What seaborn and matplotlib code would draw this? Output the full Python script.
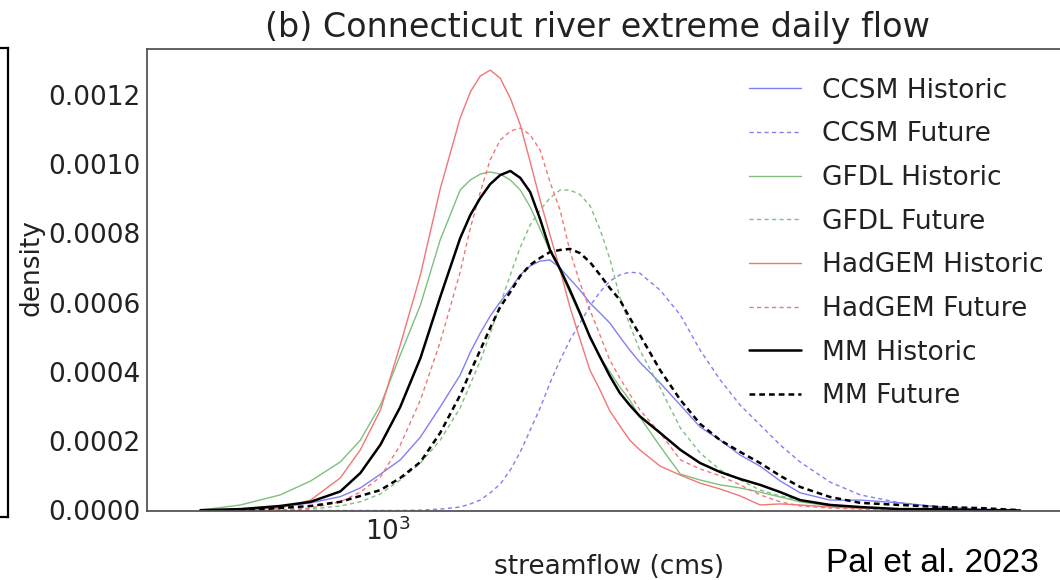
import matplotlib
matplotlib.use("Agg")
import matplotlib.pyplot as plt
import numpy as np
import pandas as pd
import seaborn as sns
from matplotlib.ticker import FixedLocator, FormatStrFormatter, NullFormatter, NullLocator

# ---------------- data ----------------
flow_cms = [601, 670, 746, 810, 878, 927, 979, 1033, 1091, 1151, 1215, 1249, 1283, 1318,
            1354, 1392, 1430, 1469, 1509, 1550, 1593, 1636, 1681, 1727, 1775, 1823, 1873,
            1924, 1977, 2089, 2207, 2328, 2458, 2595, 2739, 2893, 3053, 3311, 3593, 4004,
            4462, 4971, 5541]

# densities in units of 1e-6
ccsm_hist = [0, 1, 10, 22, 40, 65, 105, 146, 212, 299, 391, 457, 512, 561, 602, 639, 680, 706,
             720, 723, 700, 668, 636, 599, 570, 541, 501, 463, 428, 368, 304, 241, 203, 160,
             128, 85, 51, 30, 30, 22, 10, 4, 1]
ccsm_fut = [0, 0, 0, 0, 0, 0, 0, 0, 1, 4, 10, 19, 30, 51, 76, 117, 169, 232, 296, 368, 434,
            492, 541, 590, 631, 662, 680, 688, 685, 636, 564, 463, 377, 304, 247, 189, 140,
            82, 45, 22, 10, 4, 1]
gfdl_hist = [1, 16, 45, 85, 140, 203, 304, 449, 593, 781, 925, 954, 971, 977, 971, 954, 925,
             876, 812, 749, 691, 628, 564, 504, 443, 400, 356, 319, 270, 185, 105, 88, 74, 65,
             53, 39, 25, 13, 7, 4, 1, 0, 0]
gfdl_fut = [0, 0, 1, 4, 13, 25, 48, 88, 137, 203, 296, 365, 432, 510, 595, 680, 760, 824, 867,
            902, 925, 925, 912, 880, 812, 726, 615, 535, 463, 354, 238, 166, 117, 88, 59, 42,
            30, 16, 7, 4, 1, 0, 0]
hadgem_hist = [0, 1, 7, 30, 94, 175, 290, 478, 680, 928, 1133, 1208, 1254, 1271, 1248, 1190,
               1113, 1006, 896, 795, 694, 587, 495, 405, 348, 287, 244, 203, 175, 128, 102,
               79, 62, 42, 16, 19, 16, 10, 7, 4, 1, 0, 0]
hadgem_fut = [0, 0, 1, 7, 25, 53, 97, 189, 319, 486, 688, 815, 919, 1012, 1069, 1095, 1104,
              1084, 1040, 948, 867, 749, 657, 579, 506, 434, 382, 336, 290, 224, 146, 120,
              100, 74, 45, 25, 13, 7, 4, 1, 0, 0, 0]
mm_hist = [1, 4, 13, 25, 55, 108, 190, 299, 440, 616, 786, 853, 902, 942, 968, 980, 960, 919,
           841, 752, 697, 636, 570, 501, 443, 388, 339, 304, 272, 224, 175, 137, 111, 91, 74,
           53, 30, 16, 10, 4, 4, 1, 0]
mm_fut = [0, 1, 7, 13, 25, 42, 59, 94, 140, 224, 333, 400, 463, 527, 587, 631, 677, 709, 729,
          746, 752, 755, 743, 717, 680, 642, 608, 556, 507, 405, 319, 250, 203, 169, 137, 100,
          68, 39, 22, 16, 10, 7, 1]
DENSITY_UNIT = 1e-6

series_names = ["CCSM Historic", "CCSM Future", "GFDL Historic", "GFDL Future",
                "HadGEM Historic", "HadGEM Future", "MM Historic", "MM Future"]
series_values = [ccsm_hist, ccsm_fut, gfdl_hist, gfdl_fut,
                 hadgem_hist, hadgem_fut, mm_hist, mm_fut]
y_ticks = [0.0, 0.0002, 0.0004, 0.0006, 0.0008, 0.0010, 0.0012]

# ---------------- styles ----------------
styles = {
    "CCSM Historic":   dict(color="#8080f2", lw=1.0, ls="-"),
    "CCSM Future":     dict(color="#8080f2", lw=1.0, ls=(0, (3.0, 2.4))),
    "GFDL Historic":   dict(color="#7fbf7f", lw=1.0, ls="-"),
    "GFDL Future":     dict(color="#7fbf7f", lw=1.0, ls=(0, (3.0, 2.4))),
    "HadGEM Historic": dict(color="#f27676", lw=1.0, ls="-"),
    "HadGEM Future":   dict(color="#f27676", lw=1.0, ls=(0, (3.0, 2.4))),
    "MM Historic":     dict(color="black", lw=1.8, ls="-"),
    "MM Future":       dict(color="black", lw=1.8, ls=(0, (2.3, 1.6))),
}

rows = []
for name, vals in zip(series_names, series_values):
    for f, d in zip(flow_cms, vals):
        rows.append({"streamflow": f, "density": d * DENSITY_UNIT, "series": name})
df = pd.DataFrame(rows)

sns.set_theme(style="white")
plt.rcParams["font.family"] = ["DejaVu Sans"]

W, H = 1060, 580
fig = plt.figure(figsize=(W / 100, H / 100), dpi=100)

# cropped neighbouring panel (only its frame is visible at the far left)
ax0 = fig.add_axes([-0.05, 1 - 517 / H, 0.05 + 8 / W, (517 - 48) / H])
ax0.set_xticks([]); ax0.set_yticks([])
for s in ["top", "right", "bottom"]:
    ax0.spines[s].set_color("black"); ax0.spines[s].set_linewidth(1.6)
ax0.spines["left"].set_visible(False)

L, R, T, B = 147, 1075, 49, 510.5
ax = fig.add_axes([L / W, 1 - B / H, (R - L) / W, (B - T) / H])

for name in series_names:
    st = styles[name]
    sub = df[df["series"] == name]
    sns.lineplot(data=sub, x="streamflow", y="density", ax=ax, color=st["color"],
                 linewidth=st["lw"], linestyle=st["ls"], label=name, sort=False,
                 estimator=None)

ax.set_xscale("log")
ax.set_xlim(520, 6430)
ax.set_ylim(0, 0.001332)
ax.yaxis.set_major_locator(FixedLocator(y_ticks))
ax.yaxis.set_major_formatter(FormatStrFormatter("%.4f"))
ax.xaxis.set_minor_formatter(NullFormatter())
ax.xaxis.set_minor_locator(NullLocator())
ax.tick_params(axis="both", which="both", length=0, labelsize=19, pad=5,
               labelcolor="#222222")
for s in ax.spines.values():
    s.set_color("#555555"); s.set_linewidth(1.3)

ax.set_xlabel("streamflow (cms)", fontsize=19, color="#222222", va="baseline")
ax.xaxis.set_label_coords(0.5 - 2 / (R - L), -(574 - B) / (B - T))
ax.set_ylabel("density", fontsize=19, color="#222222", va="center")
ax.yaxis.set_label_coords(-(147 - 31) / (R - L), (B - 268) / (B - T))
ax.set_title("(b) Connecticut river extreme daily flow", fontsize=24, color="#222222",
             x=(597 - L) / (R - L), y=(B - 37) / (B - T), pad=0)

leg = ax.legend(loc="upper left", bbox_to_anchor=(738 / W, 1 - 67 / H),
                bbox_transform=fig.transFigure, frameon=False, fontsize=19,
                borderaxespad=0, handlelength=2.0, labelspacing=0.67)
for t in leg.get_texts():
    t.set_color("#222222")

fig.text(826 / W, 1 - 572 / H, "Pal et al. 2023", fontsize=24,
         family=["Liberation Sans", "DejaVu Sans"], va="baseline", ha="left", color="black")

fig.savefig("out.png", dpi=100)
